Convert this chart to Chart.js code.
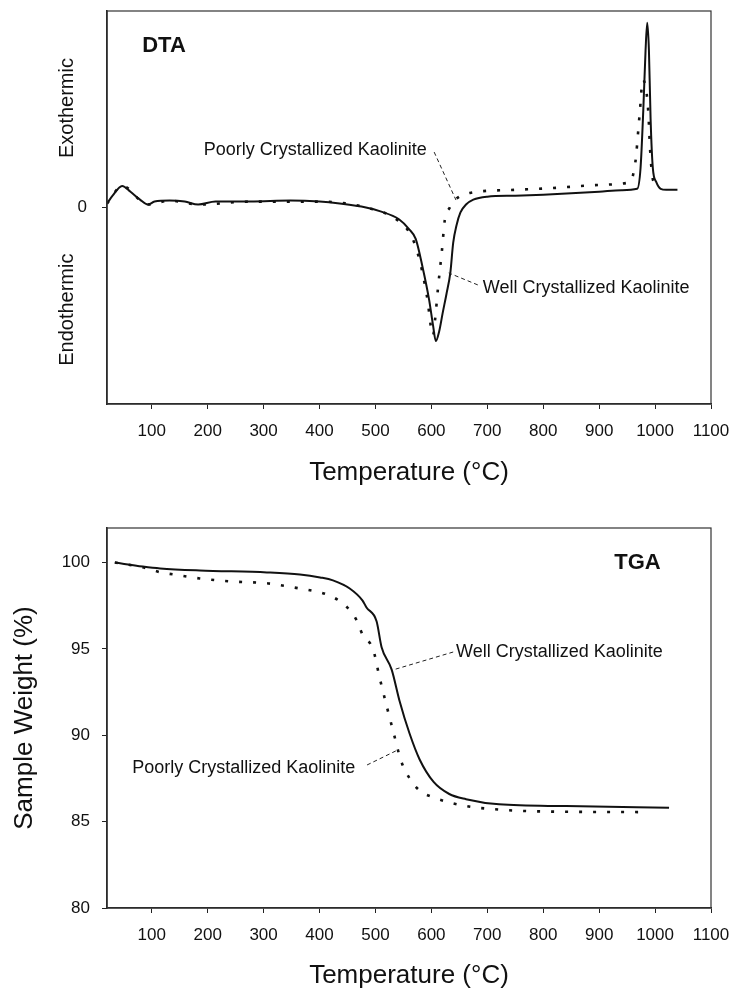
<!DOCTYPE html>
<html><head><meta charset="utf-8">
<script src="https://cdn.jsdelivr.net/npm/chart.js@4.4.1/dist/chart.umd.min.js"></script>
<style>
html,body{margin:0;padding:0;background:#fff;}
#wrap{position:relative;width:732px;height:990px;overflow:hidden;background:#fff;}
canvas{position:absolute;left:0;}
#c1{top:0;} #c2{top:495px;}
</style></head><body>
<div id="wrap"><canvas id="c1" width="732" height="495"></canvas><canvas id="c2" width="732" height="495"></canvas></div>
<script>
// ---- tick labels ----
const xTicks = [100,200,300,400,500,600,700,800,900,1000,1100];
const dtaYTicks = [0];
const tgaYTicks = [80,85,90,95,100];

// ---- DTA (arbitrary units, 0 = baseline) ----
const dtaWellTemp = [20,30,47,62,79,93,105,132,159,183,214,276,348,400,436,483,509,542,560,572,584,596,603,608,614,620,627,634,639,645,652,662,675,700,750,800,850,900,940,968,974,979,983,986,989,992,996,1002,1010,1020,1040];
const dtaWell     = [0.2,0.6,1.1,0.8,0.4,0.15,0.3,0.35,0.3,0.15,0.3,0.3,0.35,0.3,0.2,0.0,-0.2,-0.6,-1.1,-1.6,-3.0,-4.7,-6.0,-6.8,-6.3,-5.4,-4.4,-3.3,-1.8,-0.9,-0.25,0.15,0.4,0.55,0.6,0.65,0.72,0.8,0.88,0.95,2.0,5.0,8.0,9.4,8.0,4.5,2.0,1.3,0.95,0.9,0.9];
const dtaPoorTemp = [20,47,93,132,183,276,400,483,542,565,580,592,603,607,612,619,624,633,642,669,750,817,900,950,958,963,966,969,973,978,984,988,991,995,1000];
const dtaPoor     = [0.2,1.1,0.15,0.35,0.15,0.3,0.3,0.0,-0.7,-1.5,-2.8,-4.5,-6.5,-5.6,-4.05,-2.16,-0.64,0.0,0.38,0.74,0.9,0.99,1.15,1.25,1.4,2.0,2.6,3.6,4.96,6.5,6.0,4.8,3.0,1.6,1.2];

// ---- TGA (sample weight %) ----
const tgaWellTemp = [34,84,115,186,306,365,401,424,454,477,484,502,511,529,543,561,579,604,632,662,721,841,1025];
const tgaWell     = [100.0,99.77,99.66,99.54,99.43,99.31,99.14,98.97,98.5,97.8,97.4,96.6,95.1,93.8,92.0,90.1,88.6,87.3,86.6,86.3,86.0,85.9,85.8];
const tgaPoorTemp = [34,86,116,139,186,245,306,341,364,400,424,449,466,477,496,507,520,532,546,561,579,604,662,721,782,989];
const tgaPoor     = [100.0,99.71,99.43,99.31,99.08,98.9,98.8,98.63,98.5,98.28,98.0,97.42,96.68,95.82,94.96,93.4,91.7,90.2,88.5,87.5,86.8,86.4,85.9,85.7,85.6,85.55];

const FONT = "'Liberation Sans', Arial, Helvetica, sans-serif";
Chart.defaults.font.family = FONT;
Chart.defaults.color = '#111';

const pts = (xs, ys) => xs.map((v,i)=>({x:v, y:ys[i]}));

const notesPlugin = {
  id: 'notes',
  afterDraw(chart, args, opts) {
    const {ctx, chartArea:a, scales:{x, y}} = chart;
    ctx.save();
    ctx.strokeStyle = '#333'; ctx.lineWidth = 1.2; ctx.setLineDash([]);
    ctx.strokeRect(a.left, a.top, a.right - a.left, a.bottom - a.top);
    ctx.strokeStyle = '#222'; ctx.lineWidth = 1;
    (opts.leaders || []).forEach(l => {
      ctx.setLineDash([4,3]);
      ctx.beginPath();
      ctx.moveTo(x.getPixelForValue(l.from[0]), y.getPixelForValue(l.from[1]));
      ctx.lineTo(x.getPixelForValue(l.to[0]), y.getPixelForValue(l.to[1]));
      ctx.stroke();
    });
    ctx.setLineDash([]);
    ctx.fillStyle = '#111';
    (opts.labels || []).forEach(t => {
      ctx.font = (t.bold ? 'bold ' : '') + t.size + 'px ' + FONT;
      ctx.textAlign = 'left'; ctx.textBaseline = 'middle';
      ctx.fillText(t.text, x.getPixelForValue(t.x), y.getPixelForValue(t.y));
    });
    (opts.side || []).forEach(t => {
      ctx.save();
      ctx.font = t.size + 'px ' + FONT;
      ctx.textAlign = 'center'; ctx.textBaseline = 'middle';
      ctx.translate(a.left - t.dx, y.getPixelForValue(t.y));
      ctx.rotate(-Math.PI/2);
      ctx.fillText(t.text, 0, 0);
      ctx.restore();
    });
    ctx.restore();
  }
};

function makeChart(id, cfg) {
  return new Chart(document.getElementById(id), {
    type: 'line',
    data: { datasets: [
      { label: 'Well Crystallized Kaolinite', data: cfg.well, borderColor: '#111', borderWidth: 2,
        pointRadius: 0, cubicInterpolationMode: 'monotone', fill: false },
      { label: 'Poorly Crystallized Kaolinite', data: cfg.poor, borderColor: '#111', borderWidth: 2.6,
        borderDash: [3, 11], borderCapStyle: 'butt', pointRadius: 0, cubicInterpolationMode: 'monotone', fill: false }
    ]},
    options: {
      responsive: false, animation: false, devicePixelRatio: 1,
      layout: { padding: { top: cfg.padTop, right: 21, left: 0, bottom: 0 } },
      plugins: { legend: { display: false }, tooltip: { enabled: false }, notes: cfg.notes },
      scales: {
        x: {
          type: 'linear', min: 20, max: 1100,
          afterBuildTicks: s => { s.ticks = xTicks.map(v => ({value: v})); },
          afterFit: s => { s.height = cfg.xHeight; s.paddingLeft = 0; s.paddingRight = 0; s.paddingTop = 0; s.paddingBottom = 0; },
          grid: { drawOnChartArea: false, drawTicks: true, tickLength: 5, color: '#222', lineWidth: 1 },
          border: { display: true, color: '#222', width: 1.6 },
          ticks: { font: { size: 17 }, padding: 12, color: '#111', maxRotation: 0, autoSkip: false,
                   callback: v => String(v) },
          title: { display: true, text: 'Temperature (°C)', font: { size: 26, lineHeight: 1 },
                   padding: { top: 0, bottom: cfg.titlePad }, color: '#111' }
        },
        y: {
          type: 'linear', min: cfg.yMin, max: cfg.yMax,
          afterBuildTicks: s => { s.ticks = cfg.yTicks.map(v => ({value: v})); },
          afterFit: s => { s.width = 107; s.paddingLeft = 0; s.paddingRight = 0; s.paddingTop = 0; s.paddingBottom = 0; },
          grid: { drawOnChartArea: false, drawTicks: true, tickLength: 5, color: '#222', lineWidth: 1 },
          border: { display: true, color: '#222', width: 1.6 },
          ticks: { font: { size: 17 }, padding: cfg.yPad, color: '#111', callback: v => String(v) },
          title: cfg.yTitle ? { display: true, text: cfg.yTitle, font: { size: 26, lineHeight: 1 },
                   padding: { top: 12, bottom: 0 }, color: '#111' } : { display: false }
        }
      }
    },
    plugins: [notesPlugin]
  });
}

makeChart('c1', {
  well: pts(dtaWellTemp, dtaWell), poor: pts(dtaPoorTemp, dtaPoor),
  yMin: -10, yMax: 10, yTicks: dtaYTicks, yPad: 15, padTop: 11, xHeight: 91, titlePad: 9.5,
  notes: {
    labels: [
      { text: 'DTA', x: 83, y: 8.2, size: 22, bold: true },
      { text: 'Poorly Crystallized Kaolinite', x: 193, y: 2.93, size: 18 },
      { text: 'Well Crystallized Kaolinite', x: 692, y: -4.1, size: 18 }
    ],
    leaders: [
      { from: [605, 2.82], to: [644, 0.38] },
      { from: [683, -3.94], to: [631, -3.33] }
    ],
    side: [
      { text: 'Exothermic', y: 5.06, dx: 40, size: 20 },
      { text: 'Endothermic', y: -5.2, dx: 40, size: 20 }
    ]
  }
});

makeChart('c2', {
  well: pts(tgaWellTemp, tgaWell), poor: pts(tgaPoorTemp, tgaPoor),
  yMin: 80, yMax: 102, yTicks: tgaYTicks, yPad: 12, padTop: 33, xHeight: 82, titlePad: 1.5,
  yTitle: 'Sample Weight (%)',
  notes: {
    labels: [
      { text: 'TGA', x: 927, y: 99.97, size: 22, bold: true },
      { text: 'Well Crystallized Kaolinite', x: 644, y: 94.82, size: 18 },
      { text: 'Poorly Crystallized Kaolinite', x: 65, y: 88.1, size: 18 }
    ],
    leaders: [
      { from: [639, 94.82], to: [531, 93.78] },
      { from: [485, 88.28], to: [540, 89.15] }
    ]
  }
});
</script>
</body></html>
